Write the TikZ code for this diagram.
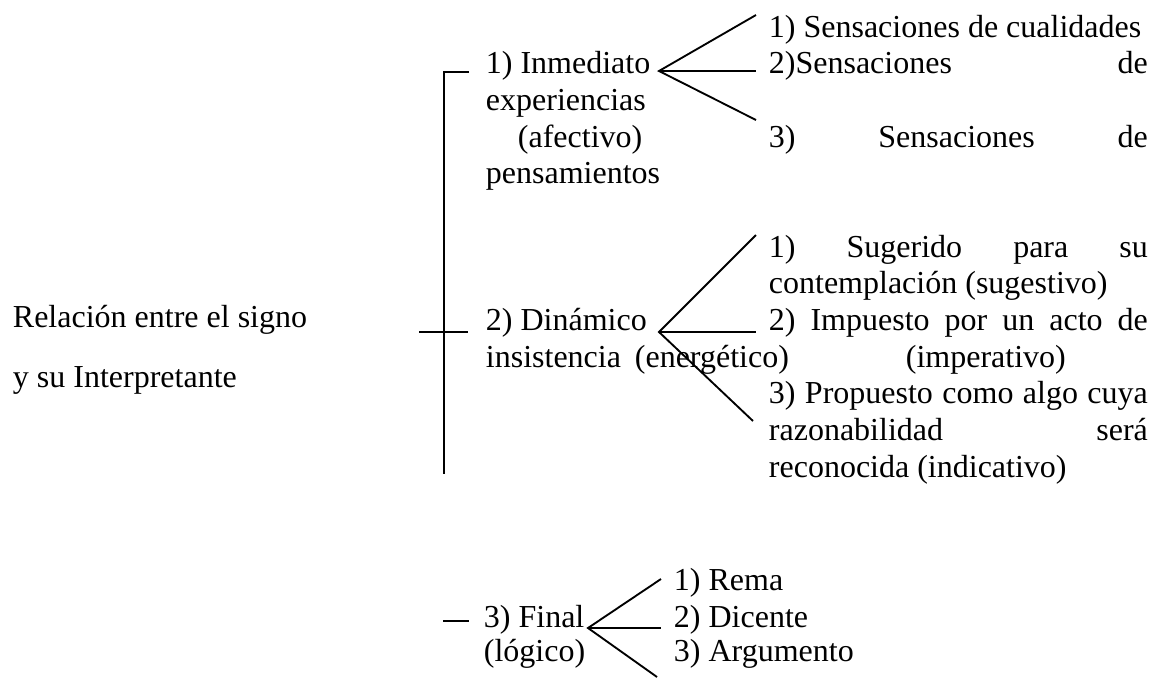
\documentclass[tikz,border=0pt]{standalone}
\usepackage{fontspec}
\setmainfont{Liberation Serif}
\begin{document}
\begin{tikzpicture}[x=0.375pt,y=-0.375pt,line width=0.7pt,
  txt/.style={inner sep=0pt,anchor=base west,font=\fontsize{12}{13.8}\selectfont}]
\useasboundingbox (0,0) rectangle (1149,677);
% left title
\node[txt] (rel1) at (12,327) {Relación entre el signo};
\node[txt] (rel2) at (12,387) {y su Interpretante};
% block 1
\node[txt] (inm) at (485,73) {1) Inmediato};
\node[txt] (exp) at (485,110) {experiencias};
\node[txt] (afe) at (517,147) {(afectivo)};
\node[txt] (pen) at (485,183) {pensamientos};
\node[txt] (s1) at (768,37) {1) Sensaciones de cualidades};
\node[txt] (s2) at (768,73) {\makebox[142.1pt][s]{2)Sensaciones de}};
\node[txt] (s3) at (768,147) {\makebox[142.1pt][s]{3) Sensaciones de}};
% block 2
\node[txt] (din) at (485,330) {2) Dinámico};
\node[txt] (ins) at (485,367) {\makebox[113.6pt][s]{insistencia (energético)}};
\node[txt] (sug) at (768,257) {\makebox[142.1pt][s]{1) Sugerido para su}};
\node[txt] (con) at (768,293) {contemplación (sugestivo)};
\node[txt] (imp) at (768,330) {\makebox[142.1pt][s]{2) Impuesto por un acto de}};
\node[txt] (imv) at (905,367) {(imperativo)};
\node[txt] (pro) at (768,403) {\makebox[142.1pt][s]{3) Propuesto como algo cuya}};
\node[txt] (raz) at (768,440) {\makebox[142.1pt][s]{razonabilidad será}};
\node[txt] (rec) at (768,477) {reconocida (indicativo)};
% block 3
\node[txt] (fin) at (483,627) {3) Final};
\node[txt] (log) at (483,661) {(lógico)};
\node[txt] (rem) at (673,590) {1) Rema};
\node[txt] (dic) at (673,627) {2) Dicente};
\node[txt] (arg) at (673,661) {3) Argumento};
% connector coordinates
\coordinate (a1) at (659,71);
\coordinate (a1u) at (756,15);
\coordinate (a1m) at (756,71);
\coordinate (a1d) at (756,120);
\coordinate (a2) at (659,332);
\coordinate (a2u) at (756,235);
\coordinate (a2m) at (756,332);
\coordinate (a2d) at (753,421);
\coordinate (a3) at (588,628);
\coordinate (a3u) at (661,579);
\coordinate (a3m) at (661,628);
\coordinate (a3d) at (657,677);
\coordinate (b0) at (469,72);
\coordinate (b1) at (444,72);
\coordinate (b2) at (444,474);
\coordinate (t1) at (419,332);
\coordinate (t2) at (468,332);
\coordinate (f1) at (443,621);
\coordinate (f2) at (469,621);
% connectors
\draw (a1u) -- (a1) -- (a1d);
\draw (a1) -- (a1m);
\draw (a2u) -- (a2) -- (a2d);
\draw (a2) -- (a2m);
\draw (a3u) -- (a3) -- (a3d);
\draw (a3) -- (a3m);
\draw (b0) -- (b1) -- (b2);
\draw (t1) -- (t2);
\draw (f1) -- (f2);
\end{tikzpicture}
\end{document}
